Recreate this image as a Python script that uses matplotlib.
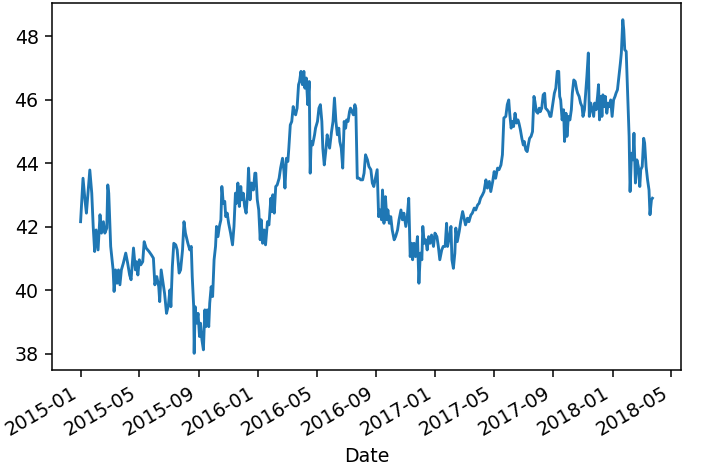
import pandas as pd
from matplotlib import pyplot as plt, dates as mdates

START = '2015-01-01'

# days after START
days = [
    0, 5, 9, 12, 19, 23, 26, 29, 32, 36, 40, 43, 47, 50, 54, 56, 58, 62, 67, 69,
    72, 75, 78, 81, 84, 88, 93, 97, 101, 104, 109, 113, 115, 118, 121, 124, 128, 131, 135, 141,
    146, 150, 153, 157, 161, 163, 166, 170, 173, 177, 181, 184,
    186, 189, 192, 196, 199, 203, 206, 210, 213, 216, 221, 225, 228, 230, 233, 234, 236, 239,
    242, 245, 247, 250, 253, 256, 258, 261, 264, 266, 269, 272, 275, 278, 280, 283, 286, 289,
    291, 294, 297, 299, 302, 305, 309, 313, 316, 319, 321, 324, 327, 330, 332, 335, 338, 341,
    344, 346, 349, 352, 356, 359, 361, 364, 367, 370, 372, 375, 378,
    381, 385, 388, 392, 394, 396, 399, 402, 405, 409, 412, 416, 419, 421, 424, 427, 429, 432,
    435, 438, 440, 443, 446, 449, 451, 454, 457, 460, 462, 465, 468, 471, 473, 475, 478, 482,
    484, 488, 491, 494, 497, 499, 502, 505, 508, 510, 513, 517, 520, 523, 526, 529, 532, 534,
    537, 540, 543, 546, 548, 551, 554, 556, 559, 562, 565, 567, 570, 574,
    577, 581, 584, 587, 591, 594, 598, 601, 604, 608, 611, 614, 617, 620, 622, 625, 628, 631,
    633, 636, 639, 642, 646, 649, 653, 656, 660, 663, 666, 670, 673, 676, 679, 682, 684, 687,
    690, 694, 697, 700, 703, 705, 708, 711, 714, 717, 720, 723, 727, 730, 734, 737, 740, 744,
    747, 751, 754, 756, 760, 763, 765, 768, 771,
    773, 776, 780, 783, 787, 790, 793, 797, 800, 804, 807, 811, 814, 818, 821, 824, 828, 831,
    835, 838, 842, 845, 849, 852, 855, 859, 862, 866, 869, 872, 876, 879, 882, 884, 887, 890,
    892, 895, 898, 901, 903, 906, 909, 912, 914, 917, 920, 923, 925, 928, 931, 934, 936, 939,
    942, 945, 947, 950, 953, 956, 958, 961, 964, 967,
    969, 972, 976, 979, 982, 985, 987, 989, 992, 995, 997, 1000, 1002, 1005, 1008, 1011, 1013, 1016,
    1019, 1022, 1024, 1027, 1030, 1033, 1035, 1038, 1041, 1043, 1046, 1048, 1051, 1054, 1057, 1059,
    1062, 1065, 1067, 1069, 1072, 1074, 1076, 1079, 1081, 1084, 1087, 1090, 1092, 1095, 1098, 1101,
    1103, 1106, 1109, 1112, 1114, 1117, 1119, 1121, 1124, 1127, 1130, 1132, 1135, 1138, 1140, 1143,
    1146, 1149, 1152, 1154, 1157, 1160, 1162, 1165, 1168, 1171, 1173, 1176, 1178,
]

prices = [
    42.16, 43.53, 42.85, 42.43, 43.79, 43.06, 42.00, 41.22, 41.90, 41.27, 42.38, 41.80, 42.16, 41.80, 41.96, 43.32, 43.06, 41.38, 40.64, 39.96,
    40.64, 40.22, 40.64, 40.17, 40.64, 40.85, 41.17, 40.85, 40.48, 40.33, 41.33, 40.64, 40.90, 40.48, 40.96, 40.80, 40.90, 41.53, 41.33, 41.22,
    41.11, 41.01, 40.17, 40.43, 40.11, 39.64, 40.64, 40.22, 39.90, 39.27, 39.54, 40.01,
    39.48, 40.74, 41.48, 41.43, 41.27, 40.54, 40.64, 41.27, 42.16, 41.80, 41.48, 41.27, 41.38, 40.43, 39.48, 38.01, 39.48, 38.96,
    39.27, 38.54, 38.96, 38.43, 38.12, 39.38, 38.85, 39.38, 38.85, 39.59, 40.11, 39.80, 40.96, 41.38, 42.01, 41.69, 42.01, 42.22,
    43.27, 42.74, 42.80, 42.32, 42.43, 42.11, 41.80, 41.43, 42.01, 43.06, 42.74, 43.38, 42.64, 43.27, 42.85, 43.06, 42.64, 42.43,
    43.06, 43.85, 42.85, 43.38, 43.16, 43.69, 43.69, 42.85, 42.53, 41.59, 42.22, 41.48, 41.90,
    41.43, 42.16, 42.06, 42.90, 42.48, 43.01, 42.43, 43.27, 43.32, 43.53, 43.85, 44.16, 43.74, 43.22, 44.16, 44.06, 44.48, 45.21,
    45.32, 45.79, 45.63, 45.53, 45.74, 46.48, 46.58, 46.90, 46.48, 46.90, 46.37, 46.69, 45.85, 46.58, 43.69, 44.69, 44.58, 44.90,
    45.11, 45.32, 45.74, 45.85, 45.32, 44.48, 43.95, 44.37, 44.90, 44.69, 44.48, 45.00, 45.32, 46.06, 45.32, 44.90, 45.11, 44.69,
    44.48, 43.85, 45.32, 45.11, 45.37, 45.32, 45.63, 45.74, 45.63, 45.53, 45.85, 45.74, 43.53, 43.53,
    43.48, 43.48, 43.69, 44.27, 44.11, 43.90, 43.80, 43.38, 43.27, 43.58, 43.80, 42.32, 42.53, 42.22, 43.16, 42.11, 42.95, 42.22,
    42.53, 42.11, 42.32, 41.90, 41.59, 41.69, 41.90, 42.22, 42.53, 42.22, 42.43, 42.01, 42.32, 42.90, 41.06, 41.48, 40.96, 41.48,
    41.06, 41.69, 40.22, 41.17, 40.96, 42.01, 41.48, 41.59, 41.27, 41.69, 41.48, 41.74, 41.38, 41.80, 41.69, 41.38, 40.96, 41.27,
    41.38, 41.38, 42.11, 41.38, 41.69, 42.01, 40.96, 40.69, 41.17,
    41.96, 41.53, 41.85, 42.16, 42.48, 42.27, 42.06, 42.27, 42.16, 42.37, 42.43, 42.59, 42.53, 42.69, 42.74, 42.90, 43.01, 43.11,
    43.48, 43.22, 43.43, 43.11, 43.43, 43.74, 43.53, 43.85, 43.80, 43.95, 44.27, 45.43, 45.48, 45.85, 46.00, 45.58, 45.11, 45.32,
    45.16, 45.58, 45.27, 45.37, 45.27, 45.06, 44.79, 44.58, 44.69, 44.43, 44.37, 44.64, 44.79, 44.85, 45.00, 46.11, 45.95, 45.63,
    45.58, 45.74, 45.63, 45.74, 46.16, 46.21, 45.74, 45.69, 45.63, 45.48,
    45.48, 45.79, 46.21, 46.37, 46.90, 46.90, 46.11, 46.00, 45.37, 45.69, 44.69, 45.58, 44.85, 45.48, 45.37, 45.69, 46.21, 46.63,
    46.58, 46.32, 46.21, 46.11, 45.90, 45.79, 45.48, 45.69, 46.32, 46.74, 47.48, 45.48, 45.90, 45.69, 45.48, 45.90,
    45.69, 46.11, 46.48, 45.37, 46.11, 45.48, 46.16, 45.79, 46.11, 45.58, 45.90, 45.79, 46.00, 45.48, 46.00, 46.11,
    46.21, 46.32, 46.74, 47.16, 47.48, 48.53, 48.21, 47.58, 47.53, 46.21, 44.85, 43.11, 44.32, 44.11, 44.95, 43.38,
    44.11, 43.90, 43.27, 43.80, 43.90, 44.79, 44.64, 43.90, 43.48, 43.16, 42.38, 42.85, 42.90,
]


def plot_close(days, prices):
    dpi = 137
    fig, ax = plt.subplots(figsize=(720 / dpi, 475 / dpi), dpi=dpi)

    index = pd.Timestamp(START) + pd.to_timedelta(days, unit='D')
    series = pd.Series(prices, index=pd.DatetimeIndex(index, name='Date'))

    ax.plot(series.index, series.values, color='#1f77b4', linewidth=1.5)

    ax.xaxis.set_major_locator(mdates.MonthLocator(bymonth=[1, 5, 9]))
    ax.xaxis.set_major_formatter(mdates.DateFormatter('%Y-%m'))
    ax.set_yticks([38, 40, 42, 44, 46, 48])
    ax.set_xlabel(series.index.name)
    plt.setp(ax.get_xticklabels(), rotation=30, ha='right')

    fig.subplots_adjust(left=52 / 720, right=681 / 720, bottom=1 - 370 / 475, top=1 - 3 / 475)
    fig.savefig('out.png', dpi=dpi)


plot_close(days, prices)
